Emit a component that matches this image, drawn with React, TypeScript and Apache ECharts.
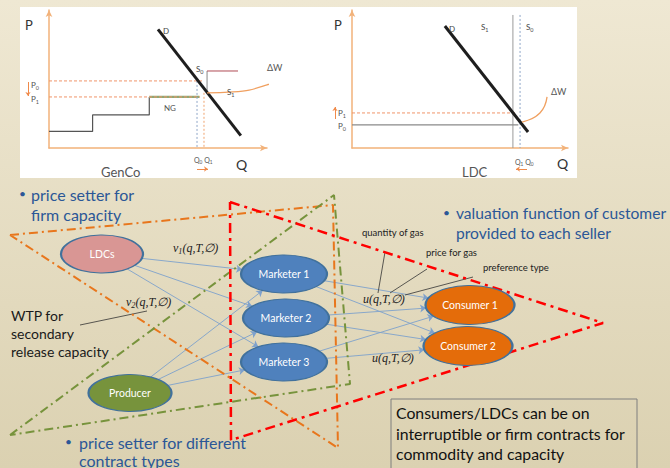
import React, { useEffect, useRef } from "react";
import * as echarts from "echarts";

// ---------- GenCo panel (axis units 0..100) ----------
const genSupplySteps = [[0, 12], [20, 12], [20, 24], [46, 24], [46, 37]];
const genNGSegment = [[46, 37], [69, 37]];
const genDemand = [[50, 86], [88, 9]];
const genP0Line = [[0, 48.6], [70.6, 48.6]];
const genP1Line = [[0, 37], [69.3, 37]];
const genQ0Line = [[67.9, 48.6], [67.9, 0]];
const genQ1Line = [[71.1, 40], [71.1, 0]];
const genS0Vertical = [[72.5, 40], [72.5, 55.8]];
const genS0Cap = [[72.5, 55.8], [86.7, 55.8]];
const genDeltaW = [[72.5, 39.9], [84.4, 40.6], [100, 45.7], [106, 51.4], [107.3, 56.5]];

// ---------- LDC panel (axis units 0..100) ----------
const ldcDemand = [[43, 88.4], [81.5, 11.6]];
const ldcS1Line = [[74.5, 96.4], [74.5, 0]];
const ldcS0Line = [[77.8, 96.4], [77.8, 0]];
const ldcP1Line = [[0, 25.4], [75.5, 25.4]];
const ldcP0Line = [[0, 16.7], [77, 16.7]];
const ldcDeltaW = [[78.7, 18.8], [87, 25.4], [90.3, 37]];

// ---------- Network diagram ----------
const nodeNames = ["LDCs", "Producer", "Marketer 1", "Marketer 2", "Marketer 3", "Consumer 1", "Consumer 2"];
const nodeColors = ["#d99694", "#77933c", "#4f81bd", "#4f81bd", "#4f81bd", "#e46c0a", "#e46c0a"];
const edgeList = [
  ["LDCs", "Marketer 1"], ["LDCs", "Marketer 2"], ["LDCs", "Marketer 3"],
  ["Producer", "Marketer 1"], ["Producer", "Marketer 2"], ["Producer", "Marketer 3"],
  ["Marketer 1", "Consumer 1"], ["Marketer 1", "Consumer 2"],
  ["Marketer 2", "Consumer 1"], ["Marketer 2", "Consumer 2"],
  ["Marketer 3", "Consumer 1"], ["Marketer 3", "Consumer 2"],
];
// layout of the diagram (pixel space of the overlay grid)
const nodeCenters = [[102, 254], [130, 393], [284, 274], [286, 318], [284, 362], [470, 305], [468, 346]];
const nodeSizes = [[82, 38], [83, 37], [86, 38], [86, 38], [86, 38], [89, 39], [89, 39]];
const orangeTriangle = [[10, 235], [333, 205], [338, 448], [10, 235]];
const greenTriangle = [[10, 435], [334, 195], [350, 384], [10, 435]];
const redTriangle = [[230, 202], [603, 323], [231, 440], [230, 202]];
const pointerLines = [
  [[80, 325], [147, 311]],
  [[385, 252], [378, 293]],
  [[427, 269], [390, 293]],
  [[473, 277], [405, 295]],
];
const smallArrows = [
  [[28, 82], [28, 96]],
  [[335, 119], [335, 107]],
  [[197, 169], [208, 169]],
  [[527, 169], [516, 169]],
];

const SANS = "Lato";
const SERIF = "Liberation Serif";
const BLUE_TEXT = "#2b5797";

function seg(data: number[][], grid: number, color: string, width: number, type: any = "solid", extra: any = {}) {
  return {
    type: "line",
    xAxisIndex: grid,
    yAxisIndex: grid,
    data,
    symbol: "none",
    silent: true,
    lineStyle: { color, width, type },
    z: 3,
    ...extra,
  };
}

function boundary(c: number[], r: number[], toward: number[]) {
  const dx = toward[0] - c[0];
  const dy = toward[1] - c[1];
  const t = 1 / Math.sqrt((dx / (r[0] / 2)) ** 2 + (dy / (r[1] / 2)) ** 2);
  return [c[0] + dx * t, c[1] + dy * t];
}

function txt(text: string, x: number, y: number, size: number, fill: string, extra: any = {}) {
  return {
    type: "text",
    x,
    y,
    z: 50,
    silent: true,
    style: {
      text,
      fill,
      fontSize: size,
      fontFamily: SANS,
      align: "left",
      verticalAlign: "middle",
      ...extra,
    },
  };
}

// text with subscripts: parts alternate [normal, sub, normal, sub, ...]
function subTxt(parts: string[], x: number, y: number, size: number, fill: string, family = SANS, italic = false) {
  const rich: any = {
    b: { fontSize: size, fontFamily: family, fontStyle: italic ? "italic" : "normal", lineHeight: size * 1.25, fill, verticalAlign: "middle" },
    s: { fontSize: size * 0.68, fontFamily: family, fontStyle: italic ? "italic" : "normal", lineHeight: size * 0.6, fill, verticalAlign: "bottom" },
  };
  const text = parts.map((p, i) => (p ? `{${i % 2 === 0 ? "b" : "s"}|${p}}` : "")).join("");
  return {
    type: "text",
    x,
    y,
    z: 50,
    silent: true,
    style: { text, rich, fill, align: "left", verticalAlign: "middle" },
  };
}

export default function App() {
  const ref = useRef<HTMLDivElement>(null);
  useEffect(() => {
    if (!ref.current) return;
    const chart = echarts.init(ref.current, undefined, { renderer: "svg" });

    const axisCommon = (gridIndex: number) => ({
      gridIndex,
      type: "value",
      min: 0,
      max: 100,
      axisLine: {
        show: true,
        onZero: false,
        symbol: ["none", "arrow"],
        symbolSize: [5, 7],
        lineStyle: { color: "#f2b27a", width: 1.5 },
      },
      axisTick: { show: false },
      axisLabel: { show: false },
      splitLine: { show: false },
    });

    const idx = (n: string) => nodeNames.indexOf(n);
    const edgeData = edgeList.map(([a, b]) => {
      const ia = idx(a);
      const ib = idx(b);
      return {
        coords: [
          boundary(nodeCenters[ia], nodeSizes[ia], nodeCenters[ib]),
          boundary(nodeCenters[ib], nodeSizes[ib], nodeCenters[ia]),
        ],
      };
    });

    const dashDot = [9, 4, 2, 4];
    const bullet = 16;
    const boxFont = 15.8;

    const option: any = {
      animation: false,
      grid: [
        { left: 49, top: 10, width: 218, height: 138 },
        { left: 352, top: 10, width: 216, height: 138 },
        { left: 0, top: 0, width: 670, height: 468 },
      ],
      xAxis: [
        axisCommon(0),
        axisCommon(1),
        { gridIndex: 2, type: "value", min: 0, max: 670, show: false },
      ],
      yAxis: [
        axisCommon(0),
        axisCommon(1),
        { gridIndex: 2, type: "value", min: 0, max: 468, inverse: true, show: false },
      ],
      graphic: [
        {
          type: "rect",
          z: -5,
          silent: true,
          shape: { x: 0, y: 0, width: 670, height: 468 },
          style: {
            fill: {
              type: "linear", x: 0, y: 0, x2: 0, y2: 1,
              colorStops: [
                { offset: 0, color: "#efe8d3" },
                { offset: 1, color: "#dbd1b1" },
              ],
            },
          },
        },
        {
          type: "rect",
          z: -4,
          silent: true,
          shape: { x: 20, y: 7, width: 557, height: 171 },
          style: { fill: "#ffffff" },
        },
        // GenCo labels
        txt("P", 25, 25, 13, "#333"),
        subTxt(["P", "0"], 31, 85, 8, "#555"),
        subTxt(["P", "1"], 31, 99, 8, "#555"),
        txt("D", 163, 31, 8, "#444"),
        subTxt(["S", "0"], 196, 69, 8, "#444"),
        subTxt(["S", "1"], 227, 92, 8, "#444"),
        txt("ΔW", 267, 67, 9, "#555"),
        txt("NG", 164, 108, 8, "#555"),
        subTxt(["Q", "0", " Q", "1"], 194, 160, 7, "#555"),
        txt("Q", 236, 164, 14, "#333"),
        txt("GenCo", 101, 172, 13, "#555"),
        // LDC labels
        txt("P", 334, 25, 13, "#333"),
        txt("D", 449, 29, 8, "#444"),
        subTxt(["S", "1"], 481, 27, 8, "#444"),
        subTxt(["S", "0"], 526, 27, 8, "#444"),
        txt("ΔW", 551, 91, 9, "#555"),
        subTxt(["P", "1"], 338, 113, 8, "#555"),
        subTxt(["P", "0"], 338, 126, 8, "#555"),
        subTxt(["Q", "1", " Q", "0"], 515, 162, 7, "#555"),
        txt("Q", 557, 163, 14, "#333"),
        txt("LDC", 462, 172, 13, "#555"),
        // Bullets
        txt("•", 19, 193, 12, BLUE_TEXT),
        txt("price setter for", 31, 194, bullet, BLUE_TEXT),
        txt("firm capacity", 31, 214, bullet, BLUE_TEXT),
        txt("•", 443, 212, 12, BLUE_TEXT),
        txt("valuation function of customer", 456, 213, 15.6, BLUE_TEXT),
        txt("provided to each seller", 456, 233, 15.6, BLUE_TEXT),
        txt("•", 65, 441, 12, BLUE_TEXT),
        txt("price setter for different", 79, 442, bullet, BLUE_TEXT),
        txt("contract types", 79, 460, bullet, BLUE_TEXT),
        // WTP
        txt("WTP for", 11, 315, 14, "#1a1a1a"),
        txt("secondary", 11, 333, 14, "#1a1a1a"),
        txt("release capacity", 11, 351, 14, "#1a1a1a"),
        // small annotations
        txt("quantity of gas", 362, 232, 9.5, "#222"),
        txt("price for gas", 426, 252, 9.5, "#222"),
        txt("preference type", 483, 267, 9.5, "#222"),
        subTxt(["v", "1", "(q,T,∅)"], 173, 248, 12, "#222", SERIF, true),
        subTxt(["v", "2", "(q,T,∅)"], 126, 302, 12, "#222", SERIF, true),
        txt("u(q,T,∅)", 363, 299, 12, "#222", { fontFamily: SERIF, fontStyle: "italic" }),
        txt("u(q,T,∅)", 372, 358, 12, "#222", { fontFamily: SERIF, fontStyle: "italic" }),
        // Box
        {
          type: "rect",
          z: 40,
          silent: true,
          shape: { x: 391, y: 399, width: 246, height: 75 },
          style: { fill: "rgba(0,0,0,0)", stroke: "#7f7f7f", lineWidth: 1 },
        },
        txt("Consumers/LDCs can be on", 396, 412, boxFont, "#111"),
        txt("interruptible or firm contracts for", 396, 433, boxFont, "#111"),
        txt("commodity and capacity", 396, 453, boxFont, "#111"),
      ],
      series: [
        // GenCo
        seg(genSupplySteps, 0, "#555555", 1.2),
        seg(genNGSegment, 0, "#8fa874", 2.2),
        seg(genP0Line, 0, "#f0946a", 1, [3, 2]),
        seg(genP1Line, 0, "#f0946a", 1, [3, 2]),
        seg(genQ0Line, 0, "#8fa6c8", 1, [2, 2]),
        seg(genQ1Line, 0, "#f0a36e", 1, [2, 2]),
        seg(genS0Vertical, 0, "#888888", 1),
        seg(genS0Cap, 0, "#b04a55", 1),
        seg(genDemand, 0, "#1e1e1e", 3),
        seg(genDeltaW, 0, "#f0a060", 1.3, "solid", { smooth: 0.5, clip: false }),
        // LDC
        seg(ldcS1Line, 1, "#9a9a9a", 1),
        seg(ldcS0Line, 1, "#8fa6c8", 1, [2, 2]),
        seg(ldcP1Line, 1, "#f0946a", 1, [3, 2]),
        seg(ldcP0Line, 1, "#8a8a8a", 1.2),
        seg(ldcDemand, 1, "#1e1e1e", 3),
        seg(ldcDeltaW, 1, "#f0a060", 1.3, "solid", { smooth: 0.5, clip: false }),
        // Network edges
        {
          type: "lines",
          coordinateSystem: "cartesian2d",
          xAxisIndex: 2,
          yAxisIndex: 2,
          silent: true,
          z: 2,
          symbol: ["none", "arrow"],
          symbolSize: 6,
          lineStyle: { color: "#7ea1cc", width: 0.9, opacity: 1 },
          data: edgeData,
        },
        {
          type: "lines",
          coordinateSystem: "cartesian2d",
          xAxisIndex: 2,
          yAxisIndex: 2,
          silent: true,
          z: 2,
          lineStyle: { color: "#333", width: 0.8, opacity: 1 },
          data: pointerLines.map((c) => ({ coords: c })),
        },
        {
          type: "lines",
          coordinateSystem: "cartesian2d",
          xAxisIndex: 2,
          yAxisIndex: 2,
          silent: true,
          z: 6,
          symbol: ["none", "arrow"],
          symbolSize: 4,
          lineStyle: { color: "#f08a4a", width: 1, opacity: 1 },
          data: smallArrows.map((c) => ({ coords: c })),
        },
        seg(orangeTriangle, 2, "#e8761c", 2, dashDot, { z: 3 }),
        seg(greenTriangle, 2, "#77933c", 2, dashDot, { z: 3 }),
        seg(redTriangle, 2, "#ff0000", 2.5, [10, 5, 3, 5], { z: 3 }),
        {
          type: "scatter",
          xAxisIndex: 2,
          yAxisIndex: 2,
          silent: true,
          z: 5,
          symbol: "circle",
          data: nodeNames.map((name, i) => ({
            name,
            value: nodeCenters[i],
            symbolSize: nodeSizes[i],
            itemStyle: { color: nodeColors[i], borderColor: "#41719c", borderWidth: 1.5, opacity: 1 },
          })),
          label: {
            show: true,
            position: "inside",
            formatter: (p: any) => p.name,
            color: "#ffffff",
            fontSize: 10.5,
            fontFamily: SANS,
          },
        },
      ],
    };
    chart.setOption(option);
    return () => chart.dispose();
  }, []);
  return <div ref={ref} style={{ position: "absolute", left: 0, top: 0, width: 670, height: 468 }} />;
}
